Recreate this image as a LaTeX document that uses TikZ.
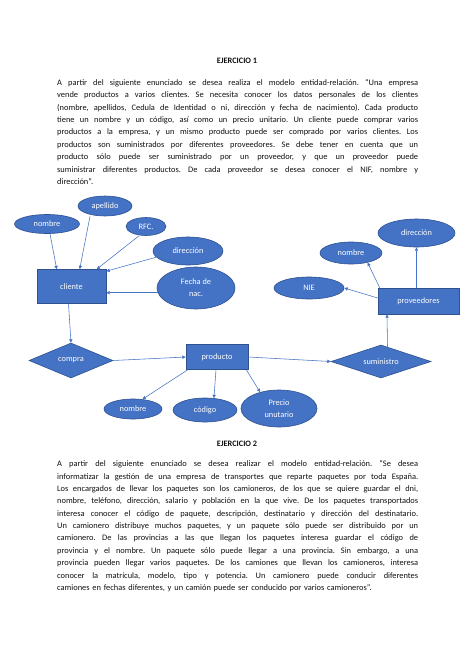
\documentclass[tikz,border=0pt]{standalone}
\usepackage{fontspec}
\setmainfont{Carlito}
\usetikzlibrary{arrows.meta,shapes.geometric}
\definecolor{erblue}{HTML}{4472C4}
\definecolor{erline}{HTML}{2F528F}
\definecolor{txt}{HTML}{111111}
\newlength\parw
\setlength\parw{361pt}
\newcommand\jline[1]{{\frenchspacing\spaceskip=0pt\xspaceskip=0pt\makebox[\parw][s]{#1}}\\}
\begin{document}
\begin{tikzpicture}[x=1pt,y=-1pt,
  lbl/.style={text=white,font=\fontsize{8.3}{12}\selectfont,inner sep=0pt,align=center},
  ent/.style={lbl,rectangle,draw=erline,fill=erblue,line width=0.6pt},
  attr/.style={lbl,ellipse,draw=erline,fill=erblue,line width=0.6pt},
  rel/.style={lbl,diamond,draw=erline,fill=erblue,line width=0.6pt,aspect=2.4},
  conn/.style={draw=erblue,line width=0.55pt,-{Triangle[length=3.4pt,width=3.2pt]}},
  para/.style={anchor=north west,inner sep=0pt,text width=\parw,align=left,text=txt,font=\fontsize{8.4}{12.35}\selectfont\frenchspacing},
  ttl/.style={font=\fontsize{8.3}{10}\selectfont\bfseries,text=txt,inner sep=0pt}]
\fill[white] (0,0) rectangle (474,670);
\useasboundingbox (0,0) rectangle (474,670);

% ---------- Ejercicio 1 text ----------
\node[ttl] (t1) at (237,61) {EJERCICIO 1};
\node[para] (p1) at (57,79.3) {%
\jline{A partir del siguiente enunciado se desea realiza el modelo entidad-relación. “Una empresa}
\jline{vende productos a varios clientes. Se necesita conocer los datos personales de los clientes}
\jline{(nombre, apellidos, Cedula de Identidad o ni, dirección y fecha de nacimiento). Cada producto}
\jline{tiene un nombre y un código, así como un precio unitario. Un cliente puede comprar varios}
\jline{productos a la empresa, y un mismo producto puede ser comprado por varios clientes. Los}
\jline{productos son suministrados por diferentes proveedores. Se debe tener en cuenta que un}
\jline{producto sólo puede ser suministrado por un proveedor, y que un proveedor puede}
\jline{suministrar diferentes productos. De cada proveedor se desea conocer el NIF, nombre y}
dirección”.};

% ---------- Diagram ----------
\node[attr,minimum width=65,minimum height=19] (nomL) at (47,224) {nombre};
\node[attr,minimum width=54,minimum height=20] (ape) at (105,206) {apellido};
\node[attr,minimum width=40,minimum height=18] (rfc) at (146,226.5) {RFC.};
\node[attr,minimum width=70,minimum height=28] (dirL) at (188,251) {dirección};
\node[attr,minimum width=78,minimum height=42] (fecha) at (196,288) {Fecha de\\nac.};
\node[ent,minimum width=69,minimum height=34] (cliente) at (71.5,286.5) {cliente};
\node[rel,minimum width=84,minimum height=35] (compra) at (71,360.5) {compra};
\node[ent,minimum width=62,minimum height=25] (producto) at (217,357) {producto};
\node[attr,minimum width=58,minimum height=20] (nomB) at (133,409) {nombre};
\node[attr,minimum width=64,minimum height=24] (codigo) at (205,410) {código};
\node[attr,minimum width=76,minimum height=37] (precio) at (279,408.5) {Precio\\unutario};
\node[rel,minimum width=100,minimum height=33] (sumin) at (381,361.5) {suministro};
\node[ent,minimum width=81,minimum height=26] (prov) at (418.5,301) {proveedores};
\node[attr,minimum width=70,minimum height=22] (nie) at (309,288) {NIE};
\node[attr,minimum width=62,minimum height=22] (nomR) at (351,253) {nombre};
\node[attr,minimum width=77,minimum height=28] (dirR) at (416.5,233) {dirección};

\draw[conn] ([xshift=3]nomL.south) -- ([xshift=20]cliente.north west);
\draw[conn] ([xshift=-15]ape.south) -- ([xshift=43]cliente.north west);
\draw[conn] ([xshift=-7]rfc.south) -- ([xshift=60]cliente.north west);
\draw[conn] (dirL.191) -- ([yshift=-2]cliente.north east);
\draw[conn] (fecha.187) -- (cliente.east |- fecha.187);
\draw[conn] ([xshift=-3]cliente.south) -- (compra.north);
\draw[conn] (compra.east) -- (producto.west);
\draw[conn] ([xshift=2]producto.south west) -- (nomB.46);
\draw[conn] ([xshift=-1]producto.south) -- (codigo.53);
\draw[conn] ([xshift=-2]producto.south east) -- (precio.139);
\draw[conn] (producto.east) -- (sumin.west);
\draw[conn] ([xshift=6.5,yshift=-2]sumin.north) -- ([xshift=-31.5]prov.south);
\draw[conn] ([yshift=3]prov.west) -- (nie.east);
\draw[conn] ([xshift=2]prov.north west) -- (nomR.330);
\draw[conn] ([xshift=-2]prov.north) -- (dirR.south);

% ---------- Ejercicio 2 text ----------
\node[ttl] (t2) at (237,444) {EJERCICIO 2};
\node[para] (p2) at (57,460.6) {%
\jline{A partir del siguiente enunciado se desea realizar el modelo entidad-relación. “Se desea}
\jline{informatizar la gestión de una empresa de transportes que reparte paquetes por toda España.}
\jline{Los encargados de llevar los paquetes son los camioneros, de los que se quiere guardar el dni,}
\jline{nombre, teléfono, dirección, salario y población en la que vive. De los paquetes transportados}
\jline{interesa conocer el código de paquete, descripción, destinatario y dirección del destinatario.}
\jline{Un camionero distribuye muchos paquetes, y un paquete sólo puede ser distribuido por un}
\jline{camionero. De las provincias a las que llegan los paquetes interesa guardar el código de}
\jline{provincia y el nombre. Un paquete sólo puede llegar a una provincia. Sin embargo, a una}
\jline{provincia pueden llegar varios paquetes. De los camiones que llevan los camioneros, interesa}
\jline{conocer la matrícula, modelo, tipo y potencia. Un camionero puede conducir diferentes}
camiones en fechas diferentes, y un camión puede ser conducido por varios camioneros”.};
\end{tikzpicture}
\end{document}
